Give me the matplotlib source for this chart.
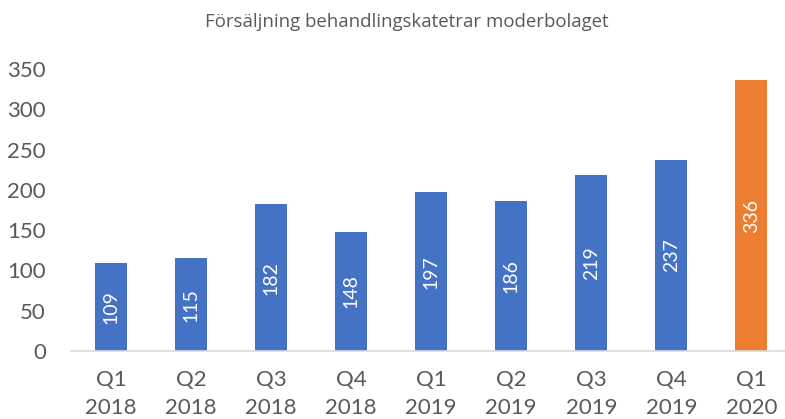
import matplotlib as mpl
mpl.use('Agg')
import matplotlib.pyplot as plt

quarters = ['Q1\n2018', 'Q2\n2018', 'Q3\n2018', 'Q4\n2018', 'Q1\n2019',
            'Q2\n2019', 'Q3\n2019', 'Q4\n2019', 'Q1\n2020']
sales = [109, 115, 182, 148, 197, 186, 219, 237, 336]
colors = ['#4472C4'] * 8 + ['#ED7D31']

grey = '#595959'

fig = plt.figure(figsize=(7.85, 4.19), dpi=100)
ax = fig.add_axes([71/785, 1 - 351/419, 1 - 71/785, (351 - 69)/419])

x = range(len(sales))
bars = ax.bar(x, sales, width=0.4, color=colors)
for b, v in zip(bars, sales):
    ax.text(b.get_x() + b.get_width()/2, v/2, str(v), rotation=90,
            ha='center', va='center', color='white', fontsize=14, family='Lato')

ax.set_ylim(0, 350)
ax.set_xlim(-0.5, 8.42)
ax.set_yticks(range(0, 351, 50))
ax.set_xticks(list(x))
ax.set_xticklabels(quarters, linespacing=1.5)
ax.tick_params(length=0, labelsize=16, labelcolor=grey, pad=14)
ax.tick_params(axis='y', pad=18)
for lab in ax.get_xticklabels() + ax.get_yticklabels():
    lab.set_family('Lato')
for s in ['top', 'right', 'left']:
    ax.spines[s].set_visible(False)
ax.spines['bottom'].set_color('#D9D9D9')
ax.spines['bottom'].set_linewidth(1.2)

fig.text(407/785, 1 - 22/419, 'Försäljning behandlingskatetrar moderbolaget',
         ha='center', va='center', fontsize=13.4, color=grey, family='Open Sans')

plt.savefig('out.png')
